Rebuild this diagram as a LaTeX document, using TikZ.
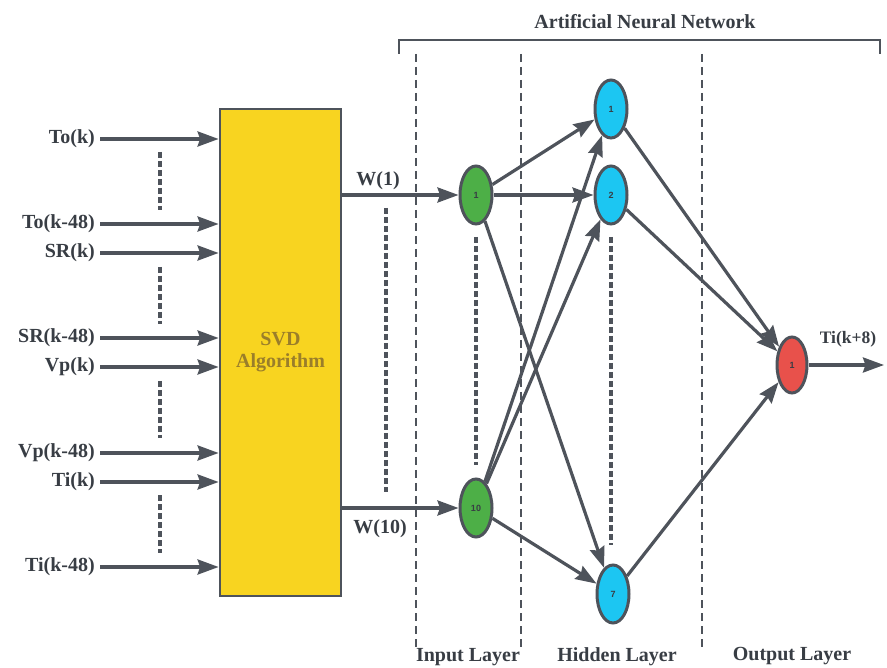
\documentclass[tikz,border=0pt]{standalone}
\usepackage{fontspec}
\setmainfont{Liberation Serif}
\newfontfamily\numfont{Liberation Sans}
\usetikzlibrary{shapes.geometric,arrows.meta}
\definecolor{ln}{HTML}{4E535B}
\definecolor{txt}{HTML}{383D44}
\definecolor{svdfill}{HTML}{F8D420}
\definecolor{svdtxt}{HTML}{9A7E2A}
\definecolor{ngreen}{HTML}{4DAF47}
\definecolor{nblue}{HTML}{1CC6F2}
\definecolor{nred}{HTML}{E8514B}
\begin{document}
\begin{tikzpicture}[x=1pt,y=-1pt,
  lbl/.style={font=\fontsize{20}{22}\selectfont\bfseries, text=txt, inner sep=0pt},
  arr/.style={draw=ln, line width=3.2pt, -{Stealth[length=21pt,width=15pt,inset=2.5pt]}},
  svdbox/.style={draw=ln, line width=2.8pt, fill=svdfill, minimum width=121pt, minimum height=487pt, inner sep=0pt},
  neuron/.style={ellipse, draw=ln, line width=3pt, minimum width=32pt, minimum height=58pt, inner sep=0pt, font=\numfont\fontsize{9}{10}\selectfont\bfseries, text=txt},
  dotsline/.style={draw=ln, line width=4pt, dash pattern=on 6pt off 3pt},
  layerline/.style={draw=ln, line width=1.2pt, dash pattern=on 8pt off 5pt},
  brk/.style={draw=ln, line width=1.5pt}
]
\useasboundingbox (0,0) rectangle (887,668);

% SVD box
\node[svdbox] (svd) at (280.5,352.5) {};
\node[lbl, text=svdtxt, align=center] (svdt) at (280.5,352) {SVD\\Algorithm};

% input labels
\node[lbl, anchor=east] (l1) at (95,139) {To(k)};
\node[lbl, anchor=east] (l2) at (95,224) {To(k-48)};
\node[lbl, anchor=east] (l3) at (95,253) {SR(k)};
\node[lbl, anchor=east] (l4) at (95,338) {SR(k-48)};
\node[lbl, anchor=east] (l5) at (95,367) {Vp(k)};
\node[lbl, anchor=east] (l6) at (95,453) {Vp(k-48)};
\node[lbl, anchor=east] (l7) at (95,482) {Ti(k)};
\node[lbl, anchor=east] (l8) at (95,567) {Ti(k-48)};
\foreach \i in {1,...,8}{
  \draw[arr, shorten <=5pt] (l\i.east) -- (l\i.east -| svd.west);
}
% left dots
\draw[dotsline] (160,152) -- (160,210);
\draw[dotsline] (160,267) -- (160,324);
\draw[dotsline] (160,381) -- (160,438);
\draw[dotsline] (160,495) -- (160,553);

% layer dashed lines
\draw[layerline] (416,54) -- (416,648);
\draw[layerline] (521,54) -- (521,648);
\draw[layerline] (702,54) -- (702,648);

% bracket and title
\draw[brk] (399,54) -- (399,40) -- (880,40) -- (880,54);
\node[lbl] (title) at (645,22) {Artificial Neural Network};

% neurons
\node[neuron, fill=ngreen] (i1) at (476,195) {1};
\node[neuron, fill=ngreen] (i10) at (476,508) {10};
\node[neuron, fill=nblue] (h1) at (611,109) {1};
\node[neuron, fill=nblue] (h2) at (611,195) {2};
\node[neuron, fill=nblue] (h7) at (613,594) {7};
\node[neuron, fill=nred, minimum width=30pt, minimum height=56pt] (o) at (792,365) {1};

% SVD outputs
\draw[arr] (svd.east |- i1) -- (i1);
\draw[arr] (svd.east |- i10) -- (i10);
\node[lbl] (w1) at (378,181) {W(1)};
\node[lbl] (w10) at (380,529) {W(10)};
\draw[dotsline] (386,208) -- (386,492);

% layer dots
\draw[dotsline] (476,237) -- (476,465);
\draw[dotsline] (611,237) -- (611,545);

% connections
\foreach \s in {i1,i10}{
  \foreach \t in {h1,h2,h7}{
    \draw[arr] (\s) -- (\t);
  }
}
\foreach \s in {h1,h2,h7}{
  \draw[arr] (\s) -- (o);
}
\coordinate (oend) at (884,365);
\draw[arr] (o) -- (oend);
\node[lbl, font=\fontsize{17.5}{19}\selectfont\bfseries] (outl) at (848,339) {Ti(k+8)};

% layer labels
\node[lbl] (il) at (468,657) {Input Layer};
\node[lbl] (hl) at (617,657) {Hidden Layer};
\node[lbl] (ol) at (792,656) {Output Layer};
\end{tikzpicture}
\end{document}
